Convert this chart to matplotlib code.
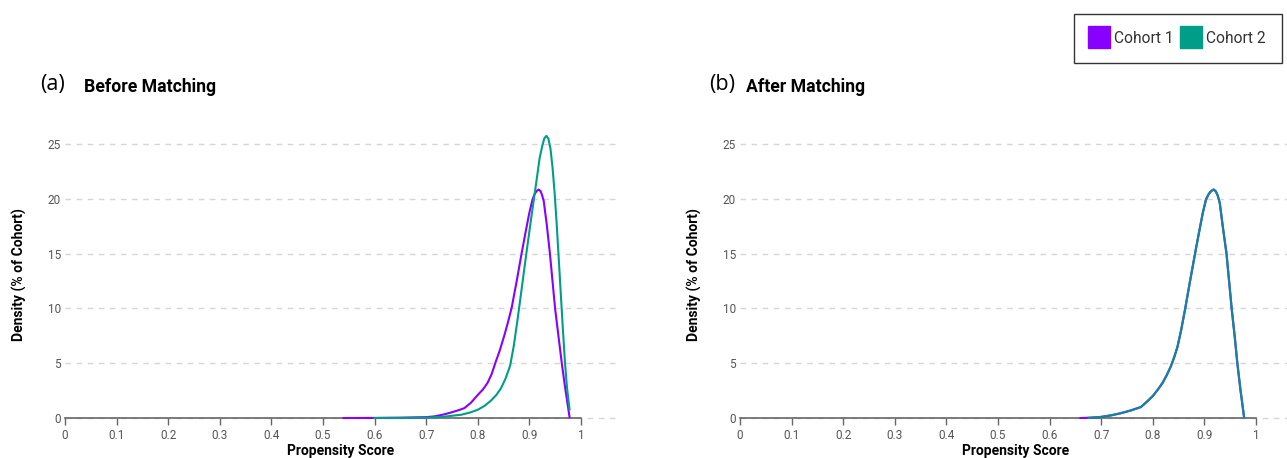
import matplotlib
matplotlib.use("Agg")
import matplotlib.pyplot as plt
from matplotlib.lines import Line2D

# Colours
PURPLE = "#8800ff"
TEAL = "#009e88"
GRID = "#d6d6d6"
TICK = "#555555"

plt.rcParams["font.family"] = ["Roboto", "DejaVu Sans"]

# Data (propensity score, density %)
before_c1_x = [0.54, 0.60, 0.65, 0.70, 0.716, 0.732, 0.748, 0.762, 0.774, 0.787, 0.80,
               0.81, 0.819, 0.827, 0.834, 0.843, 0.852, 0.859, 0.866, 0.876, 0.885,
               0.893, 0.900, 0.906, 0.910, 0.914, 0.918, 0.922, 0.925, 0.928, 0.934,
               0.940, 0.945, 0.950, 0.957, 0.963, 0.970, 0.978]
before_c1_y = [0, 0.01, 0.03, 0.08, 0.15, 0.3, 0.5, 0.7, 0.9, 1.4, 2.1,
               2.6, 3.2, 4.0, 5.0, 6.2, 7.6, 8.8, 10.1, 12.6, 15.0,
               17.0, 18.7, 19.9, 20.4, 20.7, 20.85, 20.7, 20.3, 19.8, 17.6,
               15.0, 12.5, 10.0, 7.3, 5.0, 2.6, 0.1]

before_c2_x = [0.60, 0.65, 0.70, 0.73, 0.768, 0.785, 0.80, 0.813, 0.826, 0.836, 0.845,
               0.854, 0.863, 0.870, 0.877, 0.883, 0.890, 0.896, 0.903, 0.909, 0.915,
               0.920, 0.925, 0.929, 0.933, 0.937, 0.941, 0.945, 0.949, 0.953, 0.957,
               0.961, 0.965, 0.969, 0.973, 0.978]
before_c2_y = [0, 0.01, 0.03, 0.1, 0.3, 0.5, 0.75, 1.1, 1.6, 2.1, 2.7,
               3.6, 4.8, 6.6, 8.9, 11.0, 13.5, 15.6, 18.0, 20.0, 22.0,
               23.7, 24.8, 25.5, 25.75, 25.5, 24.6, 22.9, 20.6, 17.8, 14.6,
               11.4, 8.2, 5.2, 2.8, 0.8]

after_c1_x = [0.66, 0.68, 0.70, 0.72, 0.739, 0.758, 0.777, 0.789, 0.80, 0.81, 0.819,
              0.827, 0.835, 0.842, 0.848, 0.855, 0.863, 0.872, 0.882, 0.890, 0.897,
              0.903, 0.908, 0.913, 0.918, 0.922, 0.926, 0.930, 0.936, 0.943, 0.948,
              0.953, 0.959, 0.964, 0.970, 0.977]
after_c1_y = [0, 0.03, 0.1, 0.25, 0.45, 0.7, 1.0, 1.5, 2.0, 2.6, 3.2,
              3.9, 4.7, 5.6, 6.5, 8.0, 10.0, 12.4, 15.0, 17.0, 18.7,
              19.9, 20.4, 20.7, 20.85, 20.7, 20.3, 19.6, 17.4, 15.0, 12.5,
              10.0, 7.4, 5.0, 2.6, 0.1]

after_c2_x = [0.676, 0.70, 0.72, 0.739, 0.758, 0.777, 0.789, 0.80, 0.81, 0.819,
              0.827, 0.835, 0.842, 0.848, 0.855, 0.863, 0.872, 0.882, 0.890, 0.897,
              0.903, 0.908, 0.913, 0.918, 0.922, 0.926, 0.930, 0.936, 0.943, 0.948,
              0.953, 0.959, 0.964, 0.970, 0.977]
after_c2_y = [0.02, 0.1, 0.25, 0.45, 0.7, 1.0, 1.5, 2.0, 2.6, 3.2,
              3.9, 4.7, 5.6, 6.5, 8.0, 10.0, 12.4, 15.0, 17.0, 18.7,
              19.9, 20.4, 20.7, 20.85, 20.7, 20.3, 19.6, 17.4, 15.0, 12.5,
              10.0, 7.4, 5.0, 2.6, 0.1]

x_ticks = [0, 0.1, 0.2, 0.3, 0.4, 0.5, 0.6, 0.7, 0.8, 0.9, 1]
x_tick_labels = ["0", "0.1", "0.2", "0.3", "0.4", "0.5", "0.6", "0.7", "0.8", "0.9", "1"]
y_ticks = [0, 5, 10, 15, 20, 25]

fig = plt.figure(figsize=(12.87, 4.58), dpi=100)
ax_a = fig.add_axes([0.0505, 0.0801, 0.4289, 0.6413])
ax_b = fig.add_axes([0.575, 0.0801, 0.4289, 0.6413])


def style_axes(ax):
    ax.set_xlim(0, 1.07)
    ax.set_ylim(-0.3, 26.5)
    for side in ["top", "right", "left"]:
        ax.spines[side].set_visible(False)
    ax.spines["bottom"].set_bounds(0, 1)
    ax.spines["bottom"].set_color("#666666")
    ax.spines["bottom"].set_linewidth(1.2)
    ax.spines["bottom"].set_position(("data", 0))
    ax.set_xticks(x_ticks)
    ax.set_xticklabels(x_tick_labels)
    ax.set_yticks(y_ticks)
    ax.tick_params(axis="x", length=5, width=1, color="#666666", labelsize=8.5,
                   labelcolor=TICK, pad=3)
    ax.tick_params(axis="y", length=0, labelsize=8.5, labelcolor=TICK, pad=3)
    for y in y_ticks:
        ax.axhline(y, color=GRID, lw=1, ls=(0, (4, 4)), zorder=0)
    ax.set_xlabel("Propensity Score", fontsize=10, fontweight="bold", labelpad=1.5)
    ax.set_ylabel("Density (% of Cohort)", fontsize=10, fontweight="bold", labelpad=15)


style_axes(ax_a)
style_axes(ax_b)

ax_a.plot(before_c1_x, before_c1_y, color=PURPLE, lw=1.5, zorder=3, solid_joinstyle="round")
ax_a.plot(before_c2_x, before_c2_y, color=TEAL, lw=1.5, zorder=3, solid_joinstyle="round")

ax_b.plot(after_c1_x, after_c1_y, color=PURPLE, lw=1.5, zorder=3, solid_joinstyle="round")
ax_b.plot(after_c2_x, after_c2_y, color="#0a8f96", lw=1.6, alpha=0.92, zorder=4,
          solid_joinstyle="round")

# Panel titles
fig.text(40 / 1287, 1 - 85 / 458, "(a)", fontsize=15.5, family=["Open Sans", "DejaVu Sans"],
         va="center", ha="left")
fig.text(84 / 1287, 1 - 87 / 458, "Before Matching", fontsize=12.7, fontweight="bold",
         va="center", ha="left")
fig.text(709 / 1287, 1 - 85 / 458, "(b)", fontsize=15.5, family=["Open Sans", "DejaVu Sans"],
         va="center", ha="left")
fig.text(746 / 1287, 1 - 87 / 458, "After Matching", fontsize=12.7, fontweight="bold",
         va="center", ha="left")

handles = [
    Line2D([], [], ls="none", marker="s", markersize=15.5, markerfacecolor=PURPLE,
           markeredgecolor=PURPLE, label="Cohort 1"),
    Line2D([], [], ls="none", marker="s", markersize=15.5, markerfacecolor=TEAL,
           markeredgecolor=TEAL, label="Cohort 2"),
]
leg = fig.legend(handles=handles, loc="upper right", bbox_to_anchor=(0.9965, 0.97),
                 borderaxespad=0, ncol=2, fontsize=11.2, frameon=True, fancybox=False,
                 edgecolor="black", handlelength=1.0, handletextpad=0.45,
                 columnspacing=0.6, borderpad=1.1, labelcolor="#333333")
leg.get_frame().set_linewidth(1.0)

fig.savefig("out.png", dpi=100)
